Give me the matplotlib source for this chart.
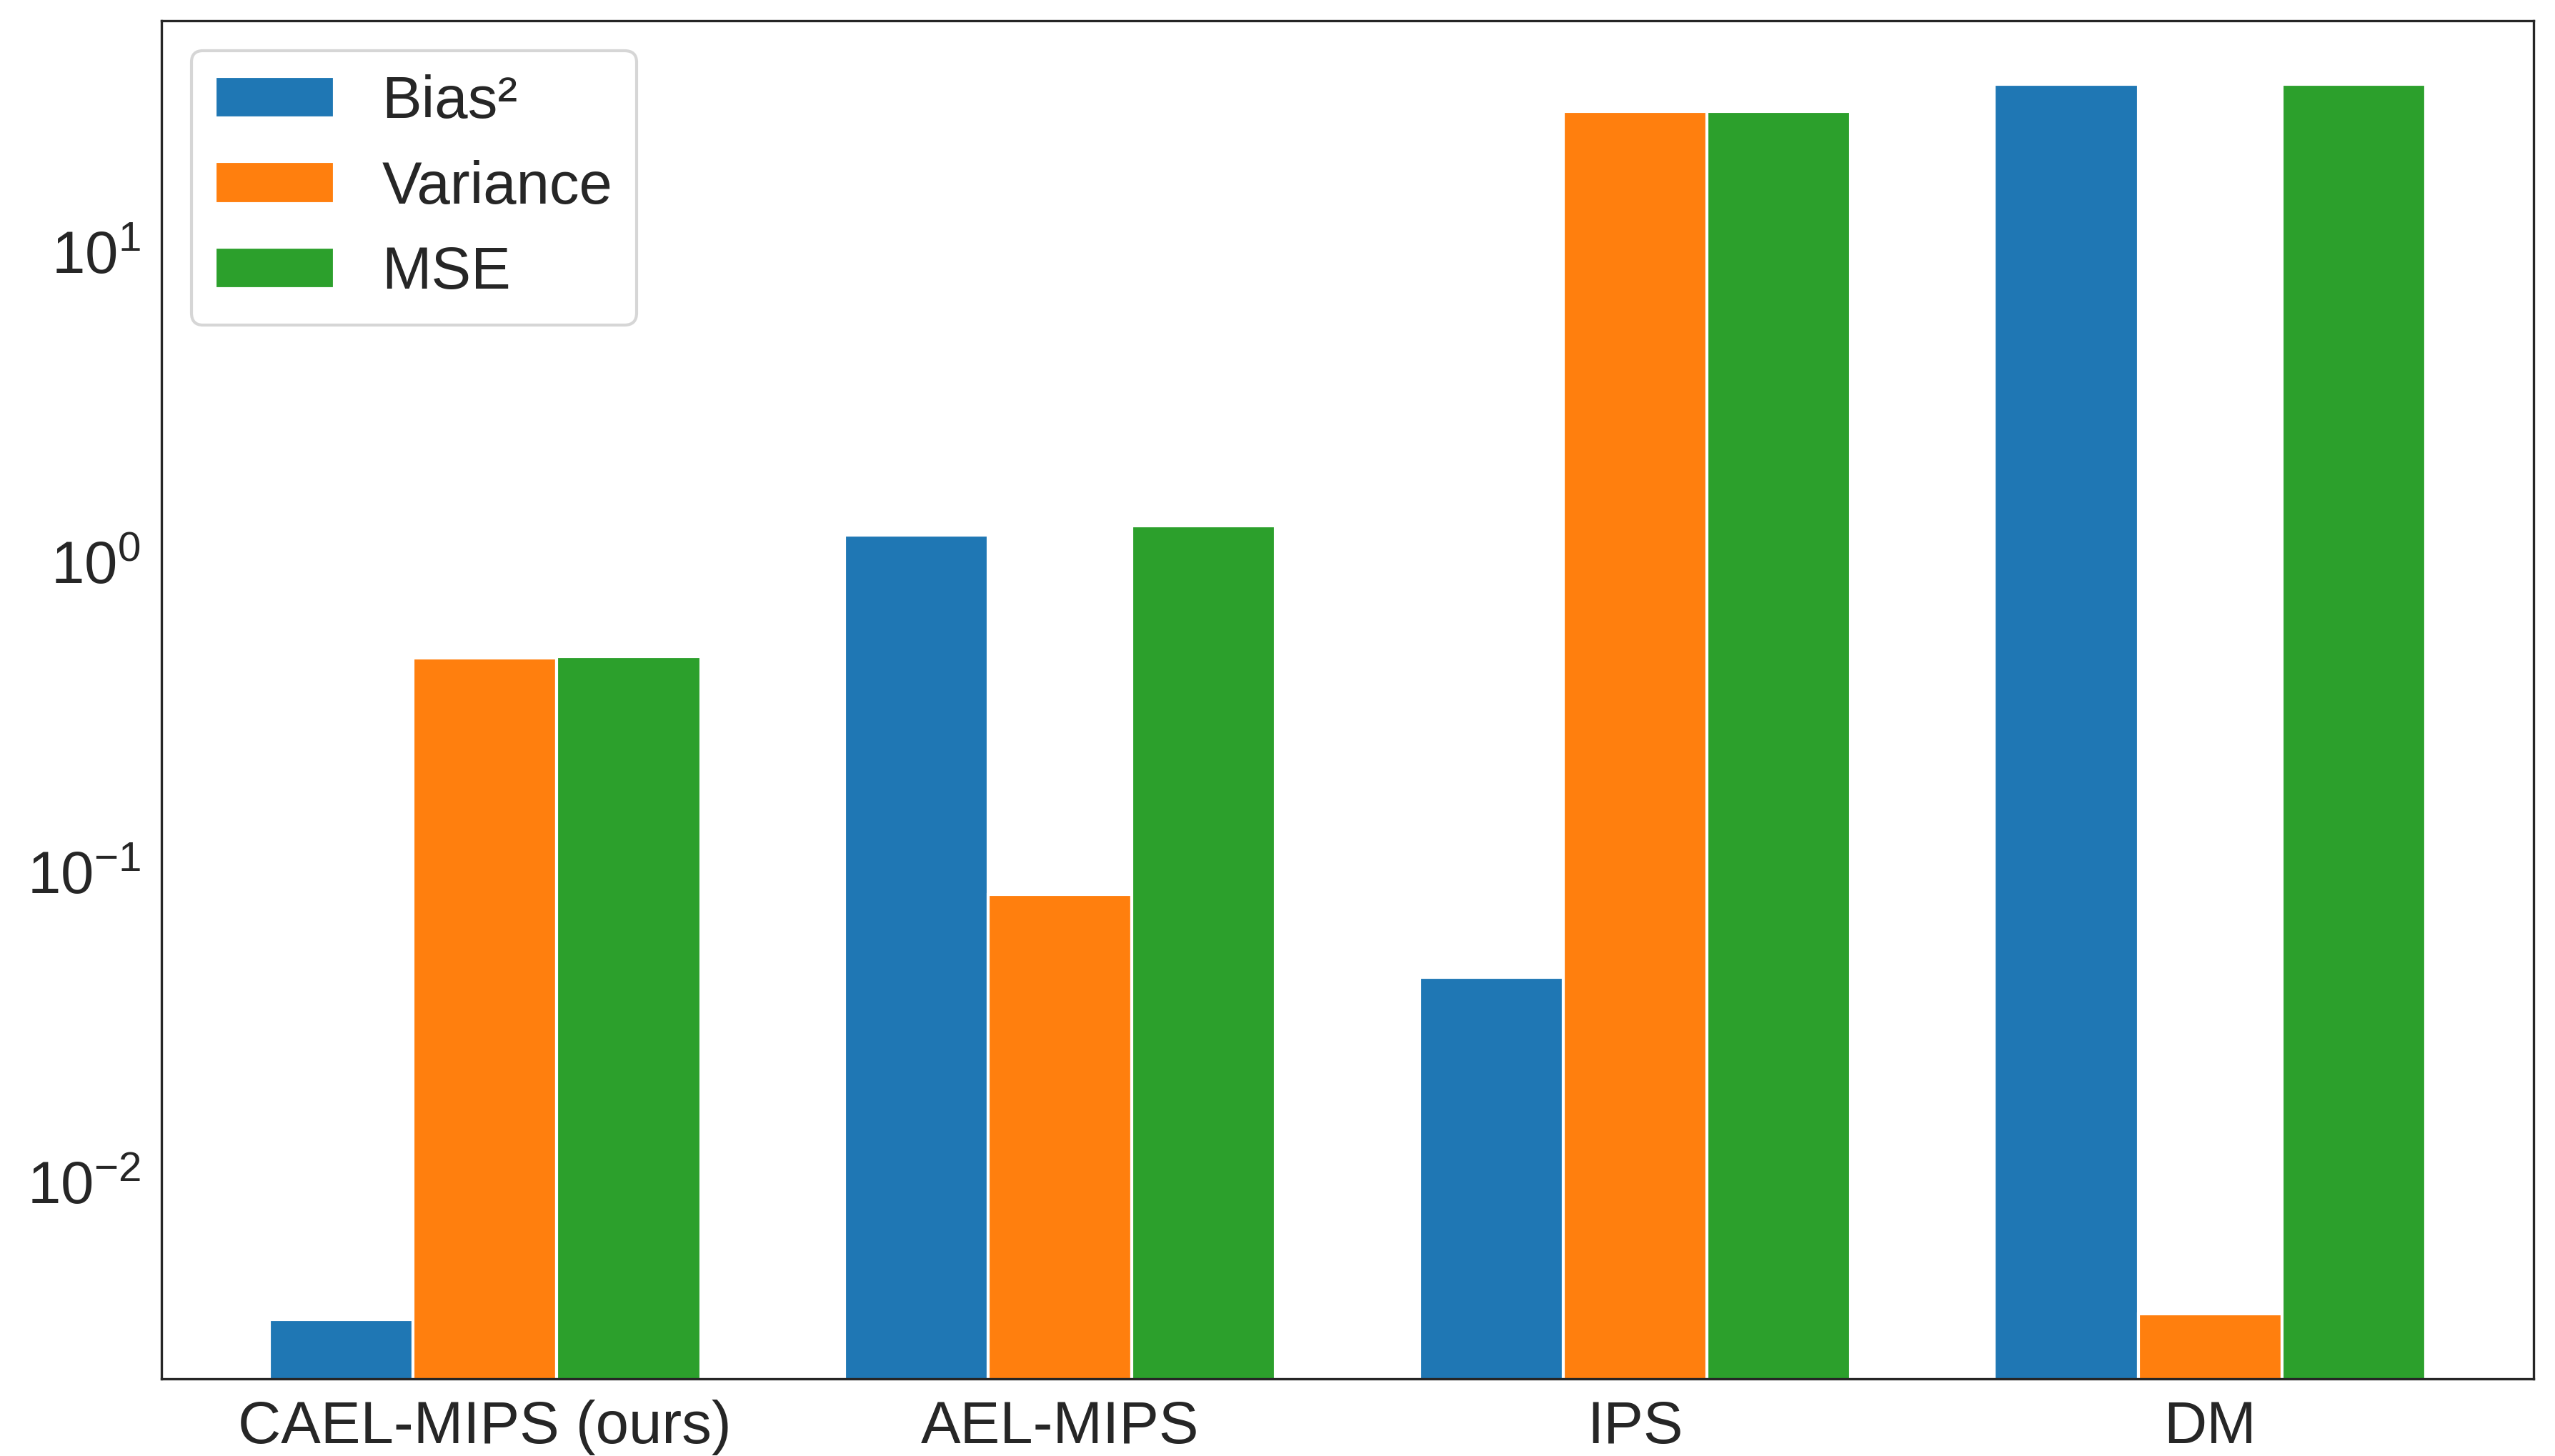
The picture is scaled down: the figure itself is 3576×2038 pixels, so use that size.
import numpy as np
import matplotlib
matplotlib.use("Agg")
import matplotlib.pyplot as plt
import seaborn as sns

sns.set_style("white")
plt.rcParams['font.family'] = ['Liberation Sans', 'DejaVu Sans']

# Data
methods = ["CAEL-MIPS (ours)", "AEL-MIPS", "IPS", "DM"]
series = ["Bias²", "Variance", "MSE"]
bias2 = [0.0036, 1.22, 0.0458, 34.8]
variance = [0.491, 0.0849, 28.4, 0.00375]
mse = [0.497, 1.31, 28.4, 34.8]

fig = plt.figure(figsize=(11.92, 6.7935), dpi=300)
ax = fig.add_axes([0.0632, 0.053, 0.9284, 0.9328])

x = np.arange(len(methods))
w = 0.25
for i, (name, vals) in enumerate(zip(series, [bias2, variance, mse])):
    ax.bar(x + (i - 1) * w, vals, w, label=name, color=f"C{i}")

ax.set_yscale("log")
ax.set_ylim(0.00232, 55.8)
ax.set_xticks(x)
ax.set_xticklabels(methods, fontsize=20)
ax.tick_params(axis='y', labelsize=20)
ax.minorticks_off()
ax.legend(loc="upper left", fontsize=20)

fig.savefig("out.png", dpi=300)
